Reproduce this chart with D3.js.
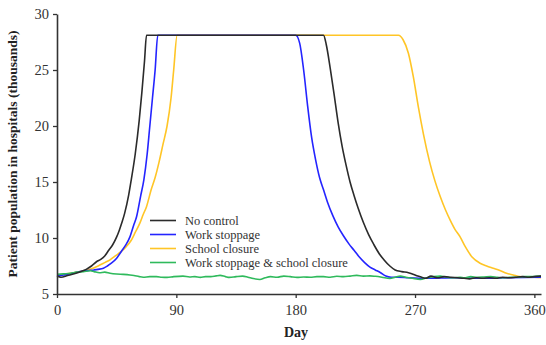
<!DOCTYPE html>
<html>
<head>
<meta charset="utf-8">
<script src="https://cdn.jsdelivr.net/npm/d3@7/dist/d3.min.js"></script>
<style>
  html, body { margin: 0; padding: 0; background: #fff; }
  svg { display: block; }
</style>
</head>
<body>
<svg id="chart" width="546" height="345"></svg>
<script>
// ---- data ----
const xTicks = [0, 90, 180, 270, 360];
const yTicks = [5, 10, 15, 20, 25, 30];
const seriesNames = ["No control", "Work stoppage", "School closure", "Work stoppage & school closure"];

const noControlDays = [0,3,8,13,18,22,26,30,33,36,39,42,45,47,49,51,54,56,59,62,64,66,67.5,
  201,203,206,209,212,215,218,221,224,227,231,235,239,243,247,251,255,260,265,269,272,275,278,
  282,287,292,297,302,307,311,316,321,326,331,336,341,346,351,356,360,365];
const noControlVals = [6.6,6.5,6.65,6.8,7.0,7.2,7.5,7.9,8.1,8.4,8.9,9.4,10.1,10.7,11.4,12.2,13.8,15.2,17.5,20.5,23,25.8,28.1,
  28.1,27.3,25.2,22.8,20.3,18.2,16.5,15,13.8,12.7,11.4,10.3,9.4,8.6,8.0,7.5,7.15,7.0,6.9,6.75,6.6,6.5,6.4,
  6.6,6.45,6.55,6.5,6.45,6.4,6.35,6.45,6.4,6.45,6.4,6.5,6.45,6.5,6.55,6.5,6.55,6.6];

const workDays = [0,5,10,15,20,24,28,31,35,38,41,45,48.5,52,55,58,60,63,65.5,68,70,72,74,76,
  180,183,186,189,192,195,198,201,204,208,212,216,220,224,228,232,236,240,244,248,252,257,265,280,300,320,340,365];
const workVals = [6.6,6.7,6.8,6.95,7.05,7.1,7.15,7.2,7.3,7.5,7.75,8.2,8.8,9.4,10.1,11.2,11.9,13.7,15.2,17.5,20,22.5,25,28.1,
  28.1,27.4,25,21.8,19,17,15.4,14.3,13.2,12.0,11.0,10.2,9.5,8.9,8.3,7.8,7.4,7.15,6.9,6.6,6.5,6.5,6.45,6.4,6.45,6.4,6.45,6.5];

const schoolDays = [0,5,10,15,20,25,31,36,40,44,48.5,52,56,59,62.4,65,67.5,71,74,77,80,83,86,88,90.6,
  257.5,261,265,268.7,272.5,276.3,281,285,289,293,296.5,300,304,308,313,319,324,329,334,339,344,349,355,360,365];
const schoolVals = [6.65,6.75,6.85,6.95,7.05,7.2,7.5,7.8,8.05,8.4,8.8,9.2,9.8,10.5,11.3,12.1,12.8,14.3,15.4,16.8,18.4,20,22.5,25,28.1,
  28.1,27.7,26.5,24.4,21.7,19.3,16.8,15.1,13.7,12.5,11.6,10.8,10.1,9.2,8.3,7.75,7.5,7.3,7.1,6.85,6.7,6.55,6.5,6.5,6.45];

const bothDays = [0,5,10,15,20,25,28,32,36,40,45,50,55,58,62,65,70,75,79,83,88,95,100,104,108,112,116,120,123,127,130,
  135,140,144,148,153,157,161,166,171,176,181,186,191,196,201,206,211,216,221,226,231,236,240,245,251,255,259,263,268,274,
  279,284,289,294,299,304,307,312,317,322,327,332,337,342,347,352,357,361,365];
const bothVals = [6.75,6.8,6.85,6.95,7.0,7.08,7.0,6.9,6.95,6.85,6.78,6.75,6.7,6.65,6.55,6.5,6.55,6.55,6.5,6.48,6.55,6.6,6.52,6.55,6.48,6.55,6.55,6.62,6.66,6.55,6.48,
  6.55,6.6,6.5,6.38,6.3,6.45,6.55,6.5,6.6,6.55,6.48,6.52,6.5,6.55,6.55,6.5,6.58,6.55,6.6,6.66,6.6,6.62,6.58,6.5,6.38,6.5,6.6,6.5,6.4,6.3,
  6.45,6.55,6.6,6.5,6.45,6.5,6.45,6.55,6.5,6.52,6.55,6.5,6.45,6.5,6.49,6.55,6.55,6.58,6.6];

const seriesColors = ["#2b2b2b", "#2424ff", "#ffc526", "#2fba5c"];

// ---- chart ----
const FONT = '"Liberation Serif", "Times New Roman", Times, serif';
const svg = d3.select("#chart");
const x = d3.scaleLinear().domain([0, 365]).range([57, 541]);
const y = d3.scaleLinear().domain([5, 30]).range([294, 14]);

const series = [
  {name: seriesNames[0], days: noControlDays, vals: noControlVals, color: seriesColors[0]},
  {name: seriesNames[1], days: workDays, vals: workVals, color: seriesColors[1]},
  {name: seriesNames[2], days: schoolDays, vals: schoolVals, color: seriesColors[2]},
  {name: seriesNames[3], days: bothDays, vals: bothVals, color: seriesColors[3]}
];

const line = d3.line().x(d => x(d[0])).y(d => y(d[1])).curve(d3.curveMonotoneX);
const drawOrder = [2, 1, 3, 0];
drawOrder.forEach(i => {
  const s = series[i];
  svg.append("path")
    .datum(s.days.map((d, k) => [d, s.vals[k]]))
    .attr("fill", "none")
    .attr("stroke", s.color)
    .attr("stroke-width", 1.6)
    .attr("stroke-linejoin", "round")
    .attr("d", line);
});

// axes
const xAxis = svg.append("g").attr("transform", "translate(0,294)")
  .call(d3.axisBottom(x).tickValues(xTicks).tickSize(4).tickSizeOuter(0));
const yAxis = svg.append("g").attr("transform", "translate(57,0)")
  .call(d3.axisLeft(y).tickValues(yTicks).tickSize(4).tickSizeOuter(0));
[xAxis, yAxis].forEach(g => {
  g.select(".domain").attr("stroke", "#333").attr("stroke-width", 1.6);
  g.selectAll(".tick line").attr("stroke", "#333").attr("stroke-width", 1.3);
  g.selectAll(".tick text").style("font-family", FONT).style("font-size", "14.5px").attr("fill", "#333");
});
xAxis.selectAll(".tick text").attr("dy", "0.95em");
yAxis.selectAll(".tick text").attr("dx", "-1px");

// titles
svg.append("text").attr("x", 296).attr("y", 337).attr("text-anchor", "middle")
  .style("font-family", FONT).style("font-weight", "bold").style("font-size", "14px").attr("fill", "#222").text("Day");
svg.append("text").attr("transform", "translate(17,154) rotate(-90)").attr("text-anchor", "middle")
  .style("font-family", FONT).style("font-weight", "bold").style("font-size", "13.5px").attr("fill", "#222")
  .text("Patient population in hospitals (thousands)");

// legend
const legend = svg.append("g");
series.forEach((s, i) => {
  const yy = 220.5 + i * 14;
  legend.append("line").attr("x1", 150).attr("x2", 176).attr("y1", yy).attr("y2", yy)
    .attr("stroke", s.color).attr("stroke-width", 1.6);
  legend.append("text").attr("x", 185).attr("y", yy).attr("dy", "0.33em")
    .style("font-family", FONT).style("font-size", "12.5px").attr("fill", "#333").text(s.name);
});
</script>
</body>
</html>
